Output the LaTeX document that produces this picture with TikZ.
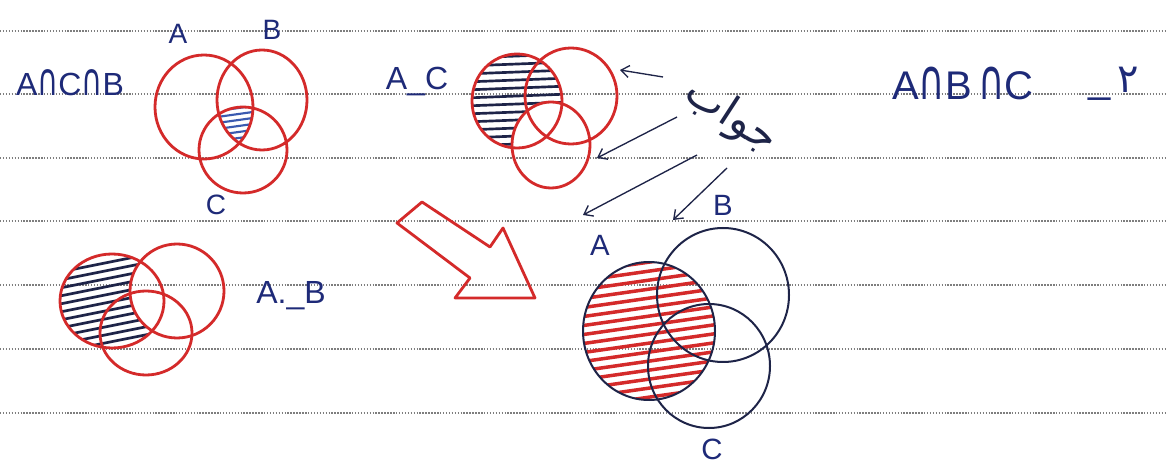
\documentclass[tikz,border=0pt]{standalone}
\usepackage{fontspec}
\usepackage{graphicx}
\setmainfont{Liberation Sans}
\newfontfamily\djv{DejaVu Sans}
\newfontfamily\arabicfont[Script=Arabic]{DejaVu Sans}
\TeXXeTstate=1
\usetikzlibrary{arrows.meta}
\definecolor{redink}{HTML}{D42A2A}
\definecolor{blueink}{HTML}{1E2A78}
\definecolor{navyink}{HTML}{1E2448}
\definecolor{hatchblue}{HTML}{3A5AB0}
\definecolor{paperline}{HTML}{7E7E7E}
\newcommand{\capsym}{{\djv\scalebox{0.9}[1.4]{∩}}}
\begin{document}
\begin{tikzpicture}[x=0.75pt,y=-0.75pt,
  redline/.style={draw=redink,line width=2.1pt},
  navyline/.style={draw=navyink,line width=1.5pt},
  ruling/.style={draw=paperline,line width=1.1pt,dash pattern=on 1.1pt off 1.1pt},
  hand/.style={text=blueink,inner sep=0pt},
  ptr/.style={draw=navyink,line width=1pt,-{Straight Barb[length=6pt,width=9pt]}},
  hatchblk/.style={draw=navyink,line width=2pt},
  hatchblu/.style={draw=hatchblue,line width=1.6pt},
  hatchred/.style={draw=redink,line width=2.6pt},
]
\fill[white] (0,0) rectangle (1167,466);
\useasboundingbox (0,0) rectangle (1167,466);

% ruled paper
\foreach \yy in {31,94,158,221,285,349,413}
  \draw[ruling] (0,\yy) -- (1167,\yy);

% ---------- top-left Venn: A n C n B ----------
\begin{scope}
  \clip (204,107) ellipse [x radius=49, y radius=52];
  \clip (262,100) ellipse [x radius=45, y radius=50];
  \clip (243,150) ellipse [x radius=44, y radius=43];
  \foreach \yy in {108,114,...,144}
    \draw[hatchblu] (210,\yy+4) -- (260,\yy-3);
\end{scope}
\draw[redline] (204,107) ellipse [x radius=49, y radius=52];
\draw[redline] (262,100) ellipse [x radius=45, y radius=50];
\draw[redline] (243,150) ellipse [x radius=44, y radius=43];
\node[hand,font=\fontsize{21}{23}\selectfont] (tlA) at (178,34) {A};
\node[hand,font=\fontsize{21}{23}\selectfont] (tlB) at (272,30) {B};
\node[hand,font=\fontsize{21}{23}\selectfont] (tlC) at (216,205) {C};
\node[hand,font=\fontsize{24}{26}\selectfont] (tlT) at (70,83) {A\capsym C\capsym B};

% ---------- top-middle Venn: A - C ----------
\begin{scope}
  \clip (517,101) ellipse [x radius=45, y radius=47];
  \begin{scope}[even odd rule]
  \clip (551,145) ellipse [x radius=39, y radius=43] (0,0) rectangle (1167,466);
  \foreach \yy in {56,64,...,150}
    \draw[hatchblk] (465,\yy+2) -- (570,\yy-2);
  \end{scope}
\end{scope}
\draw[redline] (517,101) ellipse [x radius=45, y radius=47];
\draw[redline] (571,96) ellipse [x radius=46, y radius=48];
\draw[redline] (551,145) ellipse [x radius=39, y radius=43];
\node[hand,font=\fontsize{24}{26}\selectfont] (tmT) at (417,82) {A\_C};

% ---------- bottom-left Venn: A - B ----------
\begin{scope}
  \clip (112,301) ellipse [x radius=52, y radius=47];
  \begin{scope}[even odd rule]
  \clip (177,291) ellipse [x radius=47, y radius=47] (0,0) rectangle (1167,466);
  \foreach \yy in {262,270,...,358}
    \draw[hatchblk] (55,\yy+11) -- (165,\yy-11);
  \end{scope}
\end{scope}
\draw[redline] (112,301) ellipse [x radius=52, y radius=47];
\draw[redline] (177,291) ellipse [x radius=47, y radius=47];
\draw[redline] (146,333) ellipse [x radius=46, y radius=42];
\node[hand,font=\fontsize{24}{26}\selectfont] (blT) at (291,296) {A.\_B};

% ---------- big red arrow ----------
\draw[redline,line join=round] (397,223) -- (422,202) -- (490,247) -- (503,228)
  -- (535,298) -- (455,298) -- (470,278) -- cycle;

% ---------- bottom-right Venn ----------
\begin{scope}
  \clip (649,331) ellipse [x radius=66, y radius=69];
  \foreach \yy in {262,271,...,420}
    \draw[hatchred] (580,\yy+10) -- (720,\yy-10);
\end{scope}
\draw[navyline] (649,331) ellipse [x radius=66, y radius=69];
\draw[navyline] (723,295) ellipse [x radius=66, y radius=67];
\draw[navyline] (709,366) ellipse [x radius=61, y radius=62];
\node[hand,font=\fontsize{22}{24}\selectfont] (brA) at (600,245) {A};
\node[hand,font=\fontsize{22}{24}\selectfont] (brB) at (723,205) {B};
\node[hand,font=\fontsize{22}{24}\selectfont] (brC) at (712,449) {C};

% ---------- Arabic answer label and pointers ----------
\node[text=navyink,inner sep=0pt,rotate=-33,font=\fontsize{32}{34}\selectfont]
  (ans) at (731,117) {\arabicfont\beginR جواب\endR};
\coordinate (s1) at (663,77);  \coordinate (e1) at (620,70);
\coordinate (s2) at (677,117); \coordinate (e2) at (597,158);
\coordinate (s3) at (697,155); \coordinate (e3) at (583,215);
\coordinate (s4) at (727,168); \coordinate (e4) at (673,220);
\draw[ptr] (s1) -- (e1);
\draw[ptr] (s2) -- (e2);
\draw[ptr] (s3) -- (e3);
\draw[ptr] (s4) -- (e4);

% ---------- top-right heading ----------
\node[hand,font=\fontsize{30}{32}\selectfont] (trT) at (963,83) {A\capsym B\,\capsym C};
\node[hand,font=\fontsize{30}{32}\selectfont] (trN) at (1114,84) {\_\,{\arabicfont ٢}};
\end{tikzpicture}
\end{document}
